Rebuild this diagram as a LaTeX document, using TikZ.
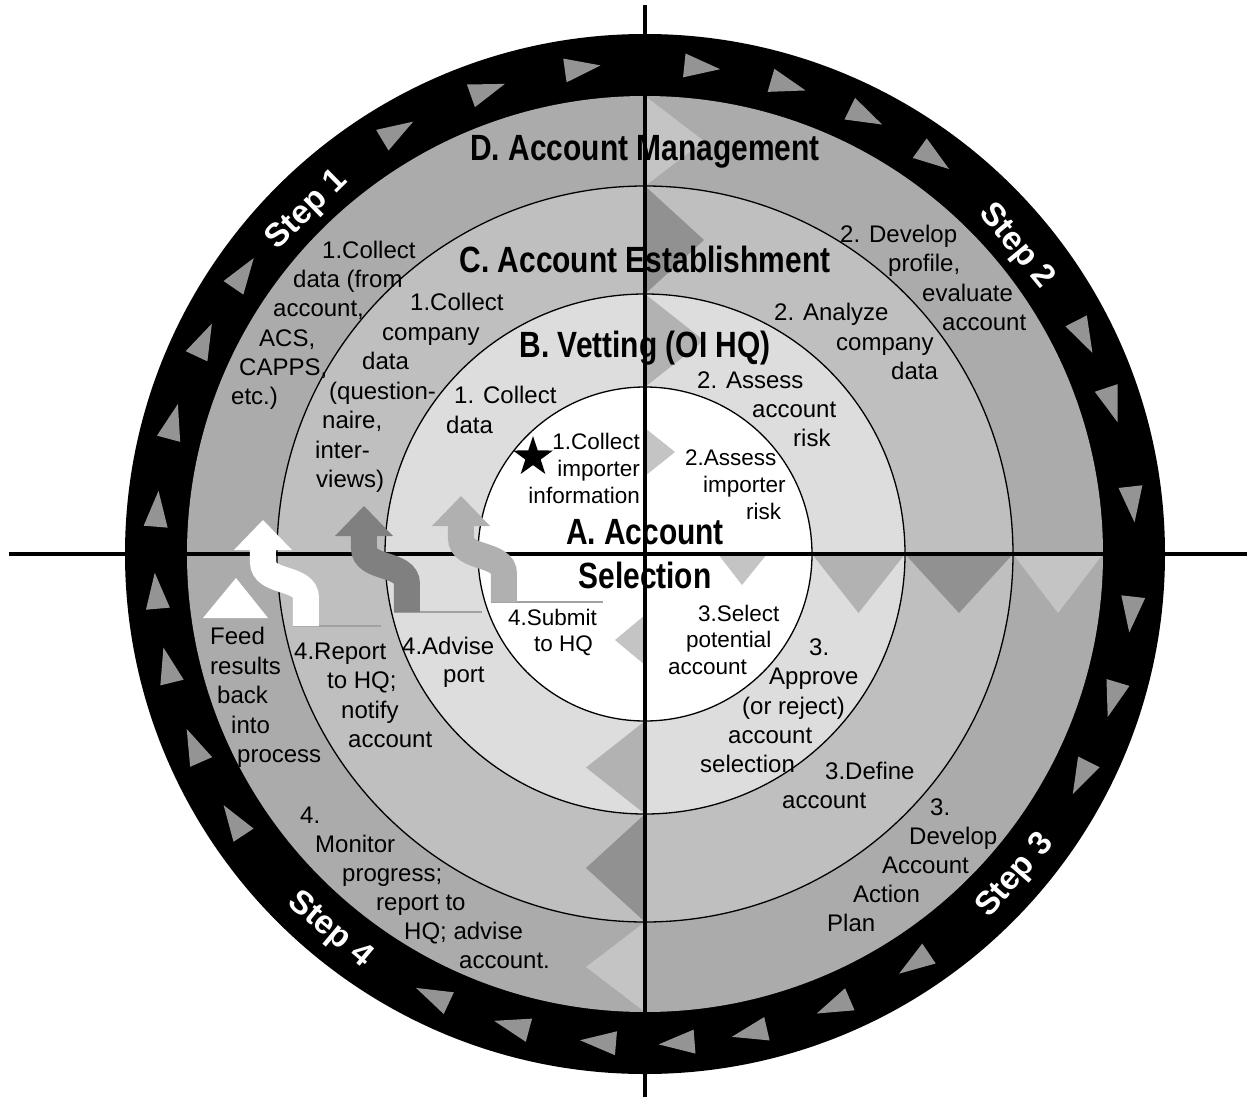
\documentclass[tikz,border=0pt]{standalone}
\usepackage{fontspec}
\setmainfont{Liberation Sans}
\newfontfamily\narrowfont[FakeStretch=0.82]{Liberation Sans}
\usetikzlibrary{shapes.geometric}

\definecolor{ringD}{gray}{0.67}
\definecolor{ringC}{gray}{0.75}
\definecolor{ringB}{gray}{0.865}
\definecolor{triLight}{gray}{0.77}
\definecolor{triMid}{gray}{0.70}
\definecolor{triDark}{gray}{0.57}
\definecolor{markGray}{gray}{0.58}
\definecolor{flowDark}{gray}{0.50}
\definecolor{flowLight}{gray}{0.69}
\definecolor{footGray}{gray}{0.63}

\tikzset{
  ringtitle/.style={font=\narrowfont\bfseries\fontsize{36.5}{44}\selectfont, align=center, inner sep=0pt},
  steptext/.style={font=\bfseries\fontsize{33}{38}\selectfont, text=white, inner sep=0pt},
  bodyline/.style={font=\fontsize{24}{29}\selectfont, inner sep=0pt, anchor=base west},
  smallline/.style={font=\fontsize{22.5}{26.5}\selectfont, inner sep=0pt, anchor=base west},
  ringline/.style={line width=1.3pt},
  axisline/.style={line width=3.3pt},
  footline/.style={footGray, line width=1.5pt}
}

\begin{document}
\begin{tikzpicture}[x=1pt, y=1pt]
\useasboundingbox (-645,-547) rectangle (604,554);

\fill[black] (0,0) circle (520);
\fill[ringD] (0,0) circle (458);
\fill[ringC] (0,0) circle (368);
\fill[ringB] (0,0) circle (260);
\fill[white] (0,0) circle (167);

\foreach \r in {0,-90,-180} {
  \fill[triLight, rotate=\r] (0,458) -- (59,413) -- (0,368) -- cycle;
  \fill[triDark, rotate=\r] (0,368) -- (59,314) -- (0,260) -- cycle;
  \fill[triMid, rotate=\r] (0,260) -- (59,213.5) -- (0,167) -- cycle;
}
\fill[triLight] (0,126) -- (30,102) -- (0,78) -- cycle;
\fill[triLight] (73,0) -- (97,-31) -- (122,0) -- cycle;
\fill[triLight] (0,-61) -- (-30,-86) -- (0,-111) -- cycle;

\draw[ringline] (0,0) circle (368);
\draw[ringline] (0,0) circle (260);
\draw[ringline] (0,0) circle (167);

\foreach \a in {175.4,165,154.8,145.7,121,109.4,98,
                84,73.7,63.9,54.5,27,18.4,6.5,
                -6.4,-16.6,-26.5,-56,-66.7,-77,-85.6,
                -94.8,-105.1,-115,-146.4,-156.3,-166.2,-175}
  \fill[markGray, rotate=\a] (478,12) -- (502,12) -- (490,-24) -- cycle;

\coordinate (west) at (-636,0);
\coordinate (east) at (602,0);
\coordinate (north) at (0,549);
\coordinate (south) at (0,-543);
\draw[axisline] (west) -- (east);
\draw[axisline] (north) -- (south);

\foreach \x/\y/\col/\len in {-382/4/white/88, -281/18/flowDark/88, -184/28/flowLight/112} {
  \draw[footline] (\x+30,\y-76) -- ++(\len,0);
  \draw[\col, line width=26pt] (\x,\y+1) -- (\x,\y-12) .. controls (\x,\y-34) and (\x+43,\y-26) .. (\x+43,\y-48) -- (\x+43,\y-76);
  \fill[\col] (\x-29,\y) -- (\x,\y+30) -- (\x+29,\y) -- cycle;
}
\fill[white] (-442,-64) -- (-409,-24) -- (-377,-64) -- cycle;

\node[star, star points=5, star point ratio=2.6, fill=black, minimum size=42pt, inner sep=0pt] (star) at (-112,97) {};

\node[steptext, rotate=44.5] (step1) at (134.5:482) {Step 1};
\node[steptext, rotate=-50.4] (step2) at (39.6:482) {Step 2};
\node[steptext, rotate=49] (step3) at (-41:491) {Step 3};
\node[steptext, rotate=-40] (step4) at (-130:491) {Step 4};

\node[ringtitle, anchor=base] (titleD) at (0,393) {D. Account Management};
\node[ringtitle, anchor=base] (titleC) at (0,281) {C. Account Establishment};
\node[ringtitle, anchor=base] (titleB) at (0,197) {B. Vetting (OI HQ)};
\node[ringtitle] (titleA) at (0,0) {A. Account\\Selection};

% step 1 texts
\foreach \x/\t [count=\i] in {-323/1.Collect, -352/data (from, -372/{account,}, -386/{ACS,}, -406/{CAPPS,}, -414/etc.)}
  \node[bodyline] (collectD\i) at (\x,295.5-29.2*\i+29.2) {\t};
\foreach \x/\t [count=\i] in {-235/1.Collect, -263/company, -283/data, -316/(question-, -323/{naire,}, -330/inter-, -329/views)}
  \node[bodyline] (collectC\i) at (\x,243.5-29.5*\i+29.5) {\t};
\foreach \x/\t [count=\i] in {-191/1. Collect, -199/data}
  \node[bodyline] (collectB\i) at (\x,150.5-30*\i+30) {\t};
\foreach \t [count=\i] in {1.Collect, importer, information}
  \node[smallline, anchor=base east] (collectA\i) at (-5,105-27*\i+27) {\t};

% step 2 texts
\foreach \x/\t [count=\i] in {195/2. Develop, 243/{profile,}, 277/evaluate, 297/account}
  \node[bodyline] (developD\i) at (\x,311.5-29.3*\i+29.3) {\t};
\foreach \x/\t [count=\i] in {129/2. Analyze, 191/company, 246/data}
  \node[bodyline] (analyzeC\i) at (\x,233.5-29.5*\i+29.5) {\t};
\foreach \x/\t [count=\i] in {52/2. Assess, 107/account, 148/risk}
  \node[bodyline] (assessB\i) at (\x,165.5-29*\i+29) {\t};
\foreach \x/\t [count=\i] in {40/2.Assess, 58/importer, 101/risk}
  \node[smallline] (assessA\i) at (\x,89-27*\i+27) {\t};

% step 3 texts
\foreach \x/\t [count=\i] in {53/3.Select, 41/potential, 23/account}
  \node[smallline] (selectA\i) at (\x,-67-26.5*\i+26.5) {\t};
\foreach \x/\t [count=\i] in {164/3., 124/Approve, 97/(or reject), 83/account, 55/selection}
  \node[bodyline] (approveB\i) at (\x,-101.5-29.25*\i+29.25) {\t};
\foreach \x/\t [count=\i] in {180/3.Define, 137/account}
  \node[bodyline] (defineC\i) at (\x,-225.5-29*\i+29) {\t};
\foreach \x/\t [count=\i] in {285/3., 264/Develop, 237/Account, 208/Action, 182/Plan}
  \node[bodyline] (planD\i) at (\x,-261.5-29*\i+29) {\t};

% step 4 texts
\foreach \x/\t [count=\i] in {-137/4.Submit, -111/to HQ}
  \node[smallline] (submitA\i) at (\x,-71-26*\i+26) {\t};
\foreach \x/\t [count=\i] in {-243/4.Advise, -202/port}
  \node[bodyline] (adviseB\i) at (\x,-100.5-28*\i+28) {\t};
\foreach \x/\t [count=\i] in {-351/4.Report, -318/to HQ;, -304/notify, -297/account}
  \node[bodyline] (reportC\i) at (\x,-105.5-29.3*\i+29.3) {\t};
\foreach \x/\t [count=\i] in {-435/Feed, -435/results, -428/back, -414/into, -408/process}
  \node[bodyline] (feedD\i) at (\x,-90.5-29.5*\i+29.5) {\t};
\foreach \x/\t [count=\i] in {-345/4., -330/Monitor, -303/progress;, -269/report to, -241/HQ; advise, -186/account.}
  \node[bodyline] (monitorD\i) at (\x,-269.5-29*\i+29) {\t};
\end{tikzpicture}
\end{document}
